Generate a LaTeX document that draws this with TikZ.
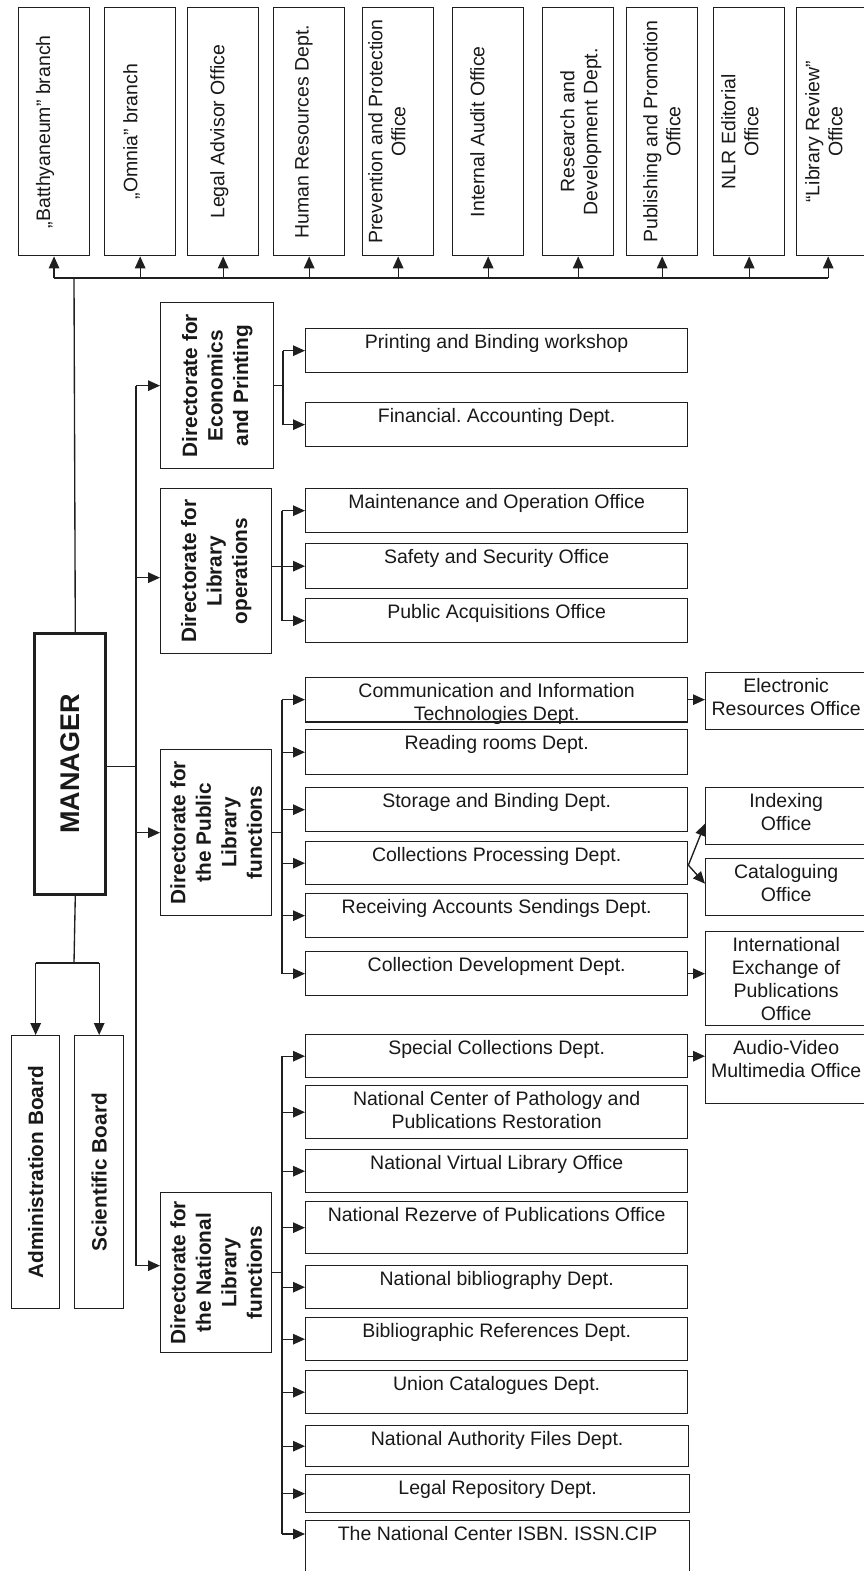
\documentclass[tikz,border=0pt]{standalone}
\usepackage{fontspec}
\setmainfont{Liberation Sans}
\usetikzlibrary{arrows.meta,calc}
\frenchspacing
\tikzset{
 ln/.style={line width=1.35pt, draw=black!88},
 bx/.style={ln, rectangle, inner sep=0pt, fill=white},
 txt/.style={inner sep=0pt, align=center, font=\fontsize{19.5}{23}\selectfont, text=black!90},
 btxt/.style={inner sep=0pt, align=center, font=\fontsize{20.8}{25.5}\selectfont\bfseries, text=black!90},
 arr/.style={ln, -{Triangle[length=12pt,width=10.5pt]}},
}
\newcommand{\mkbox}[6]{%
 \node[bx, minimum width={#4-#2}, minimum height={#5-#3}, anchor=north west] (#1) at (#2,#3) {};
 \node[txt, anchor=north] (#1t) at ([yshift=-6pt]#1.north) {#6};}
\newcommand{\mktop}[5]{%
 \node[bx, minimum width={#3-#2}, minimum height=248, anchor=north west] (#1) at (#2,7) {};
 \node[txt, rotate=90, anchor=north] (#1t) at ([xshift=#4pt]#1.west) {#5};}
\newcommand{\mkdir}[6]{%
 \node[bx, minimum width={#4-#2}, minimum height={#5-#3}, anchor=north west] (#1) at (#2,#3) {};
 \node[btxt, rotate=90] (#1t) at (#1.center) {#6};}
\begin{document}
\begin{tikzpicture}[x=1pt,y=-1pt]
\useasboundingbox (0,0) rectangle (863,1571);
% top row
\mktop{ta}{17.7}{89}{18}{„Batthyaneum” branch}
\mktop{tb}{104}{175}{19}{„Omnia” branch}
\mktop{tc}{187}{258}{23}{Legal Advisor Office}
\mktop{td}{273}{344}{22}{Human Resources Dept.}
\mktop{te}{362}{433}{6}{Prevention and Protection\\Office}
\mktop{tf}{452}{523}{18}{Internal Audit Office}
\mktop{tg}{542}{613}{18}{Research and\\Development Dept.}
\mktop{th}{626}{697}{17}{Publishing and Promotion\\Office}
\mktop{ti}{713}{784}{8}{NLR Editorial\\Office}
\mktop{tj}{796}{867}{9}{“Library Review”\\Office}
% manager
\node[bx, line width=2.6pt, minimum width=71, minimum height=261, anchor=north west] (mgr) at (33,632) {};
\node[inner sep=0pt, rotate=90, font=\fontsize{27}{30}\selectfont\bfseries, text=black!90] (mgrt) at (mgr.center) {MANAGER};
% boards
\node[bx, minimum width=48, minimum height=273, anchor=north west] (adm) at (11,1035) {};
\node[btxt, rotate=90] (admt) at (adm.center) {Administration Board};
\node[bx, minimum width=49, minimum height=273, anchor=north west] (sci) at (74,1035) {};
\node[btxt, rotate=90] (scit) at (sci.center) {Scientific Board};
% directorates
\mkdir{eco}{160}{302}{273}{468}{Directorate for\\Economics\\and Printing}
\mkdir{lib}{160}{488}{271}{653}{Directorate for\\Library\\operations}
\mkdir{pub}{160}{749}{271}{915}{Directorate for\\the Public\\Library\\functions}
\mkdir{nat}{160}{1192}{271}{1352}{Directorate for\\the National\\Library\\functions}
% sub boxes
\mkbox{prn}{305}{328}{687}{372}{Printing and Binding workshop}
\mkbox{fin}{305}{402}{687}{446}{Financial. Accounting Dept.}
\mkbox{mnt}{305}{488}{687}{532}{Maintenance and Operation Office}
\mkbox{saf}{305}{543}{687}{588}{Safety and Security Office}
\mkbox{pac}{305}{598}{687}{642}{Public Acquisitions Office}
\mkbox{com}{305}{677}{687}{721}{Communication and Information\\Technologies Dept.}
\draw[ln] (com.south west) -- (com.south east);
\mkbox{rdg}{305}{729}{687}{774}{Reading rooms Dept.}
\mkbox{stg}{305}{787}{687}{831}{Storage and Binding Dept.}
\mkbox{prc}{305}{841}{687}{884}{Collections Processing Dept.}
\mkbox{rcv}{305}{893}{687}{937}{Receiving Accounts Sendings Dept.}
\mkbox{cdv}{305}{951}{687}{995}{Collection Development Dept.}
\mkbox{spc}{305}{1034}{687}{1077}{Special Collections Dept.}
\mkbox{pth}{305}{1085}{687}{1138}{National Center of Pathology and\\Publications Restoration}
\mkbox{vlb}{305}{1149}{687}{1192}{National Virtual Library Office}
\mkbox{rez}{305}{1201}{687}{1253}{National Rezerve of Publications Office}
\mkbox{bib}{305}{1265}{687}{1308}{National bibliography Dept.}
\mkbox{brf}{305}{1317}{687}{1360}{Bibliographic References Dept.}
\mkbox{uni}{305}{1370}{687}{1413}{Union Catalogues Dept.}
\mkbox{aut}{305}{1425}{688}{1466}{National Authority Files Dept.}
\mkbox{leg}{305}{1474}{689}{1512}{Legal Repository Dept.}
\mkbox{isb}{305}{1520}{689}{1590}{The National Center ISBN. ISSN.CIP}
% right column
\mkbox{ele}{705}{672}{866}{729}{Electronic\\Resources Office}
\mkbox{idx}{705}{787}{866}{844}{Indexing\\Office}
\mkbox{cat}{705}{858}{866}{915}{Cataloguing\\Office}
\mkbox{iex}{705}{931}{866}{1025}{International\\Exchange of\\Publications\\Office}
\mkbox{avm}{705}{1034}{866}{1103}{Audio-Video\\Multimedia Office}
% top bus
\coordinate (bus) at (74,278);
\draw[ln] ([xshift=5.5pt]mgr.north) -- (bus);
\draw[ln] (ta.south |- bus) -- ([xshift=-4pt]tj.south |- bus);
\foreach \n in {ta,tb,tc,td,te,tf,tg,th,ti}{\draw[arr] (\n.south |- bus) -- (\n.south);}
\draw[arr] ([xshift=-4pt]tj.south |- bus) -- ([xshift=-4pt]tj.south);
% boards
\coordinate (bj) at (74,963);
\draw[ln] ([xshift=5.5pt]mgr.south) -- (bj);
\draw[ln] (adm.north |- bj) -- (sci.north |- bj);
\draw[arr] (adm.north |- bj) -- (adm.north);
\draw[arr] (sci.north |- bj) -- (sci.north);
% trunk
\coordinate (tr) at (136,765);
\draw[ln] ([yshift=-2.5pt]mgr.east) -- ([yshift=-2.5pt]mgr.east -| tr);
\draw[ln] (tr |- eco.west) -- ([yshift=7pt]tr |- nat.west);
\draw[arr] (tr |- eco.west) -- (eco.west);
\draw[arr] ([yshift=-6.5pt]tr |- lib.west) -- ([yshift=-6.5pt]lib.west);
\draw[arr] (tr |- pub.west) -- (pub.west);
\draw[arr] ([yshift=7pt]tr |- nat.west) -- ([yshift=7pt]nat.west);
% economics
\coordinate (ex) at (283,0);
\draw[ln] (eco.east) -- (eco.east -| ex);
\draw[ln] (ex |- prn.west) -- (ex |- fin.west);
\foreach \n in {prn,fin}{\draw[arr] (ex |- \n.west) -- (\n.west);}
% library ops
\coordinate (lx) at (282,0);
\draw[ln] (lx |- mnt.west) -- (lx |- pac.west);
\draw[arr] (lib.east |- saf.west) -- (saf.west);
\foreach \n in {mnt,pac}{\draw[arr] (lx |- \n.west) -- (\n.west);}
% public
\draw[ln] (pub.east) -- (pub.east -| lx);
\draw[ln] (lx |- com.west) -- (lx |- cdv.west);
\foreach \n in {com,rdg,stg,prc,rcv,cdv}{\draw[arr] (lx |- \n.west) -- (\n.west);}
\draw[arr] (com.east) -- (ele.west |- com.east);
\draw[arr] ([yshift=-2pt]prc.east) -- ([yshift=-7.5pt]idx.west);
\draw[arr] ([yshift=-2pt]prc.east) -- ([yshift=3.5pt]cat.west);
\draw[arr] (cdv.east) -- (iex.west |- cdv.east);
% national
\coordinate (ib) at ([yshift=-14pt]isb.north west);
\draw[ln] (nat.east) -- (nat.east -| lx);
\draw[ln] (lx |- spc.west) -- (lx |- ib);
\foreach \n in {spc,pth,vlb,rez,bib,brf,uni,aut,leg}{\draw[arr] (lx |- \n.west) -- (\n.west);}
\draw[arr] (lx |- ib) -- (ib);
\draw[arr] (spc.east) -- (avm.west |- spc.east);
\end{tikzpicture}
\end{document}
